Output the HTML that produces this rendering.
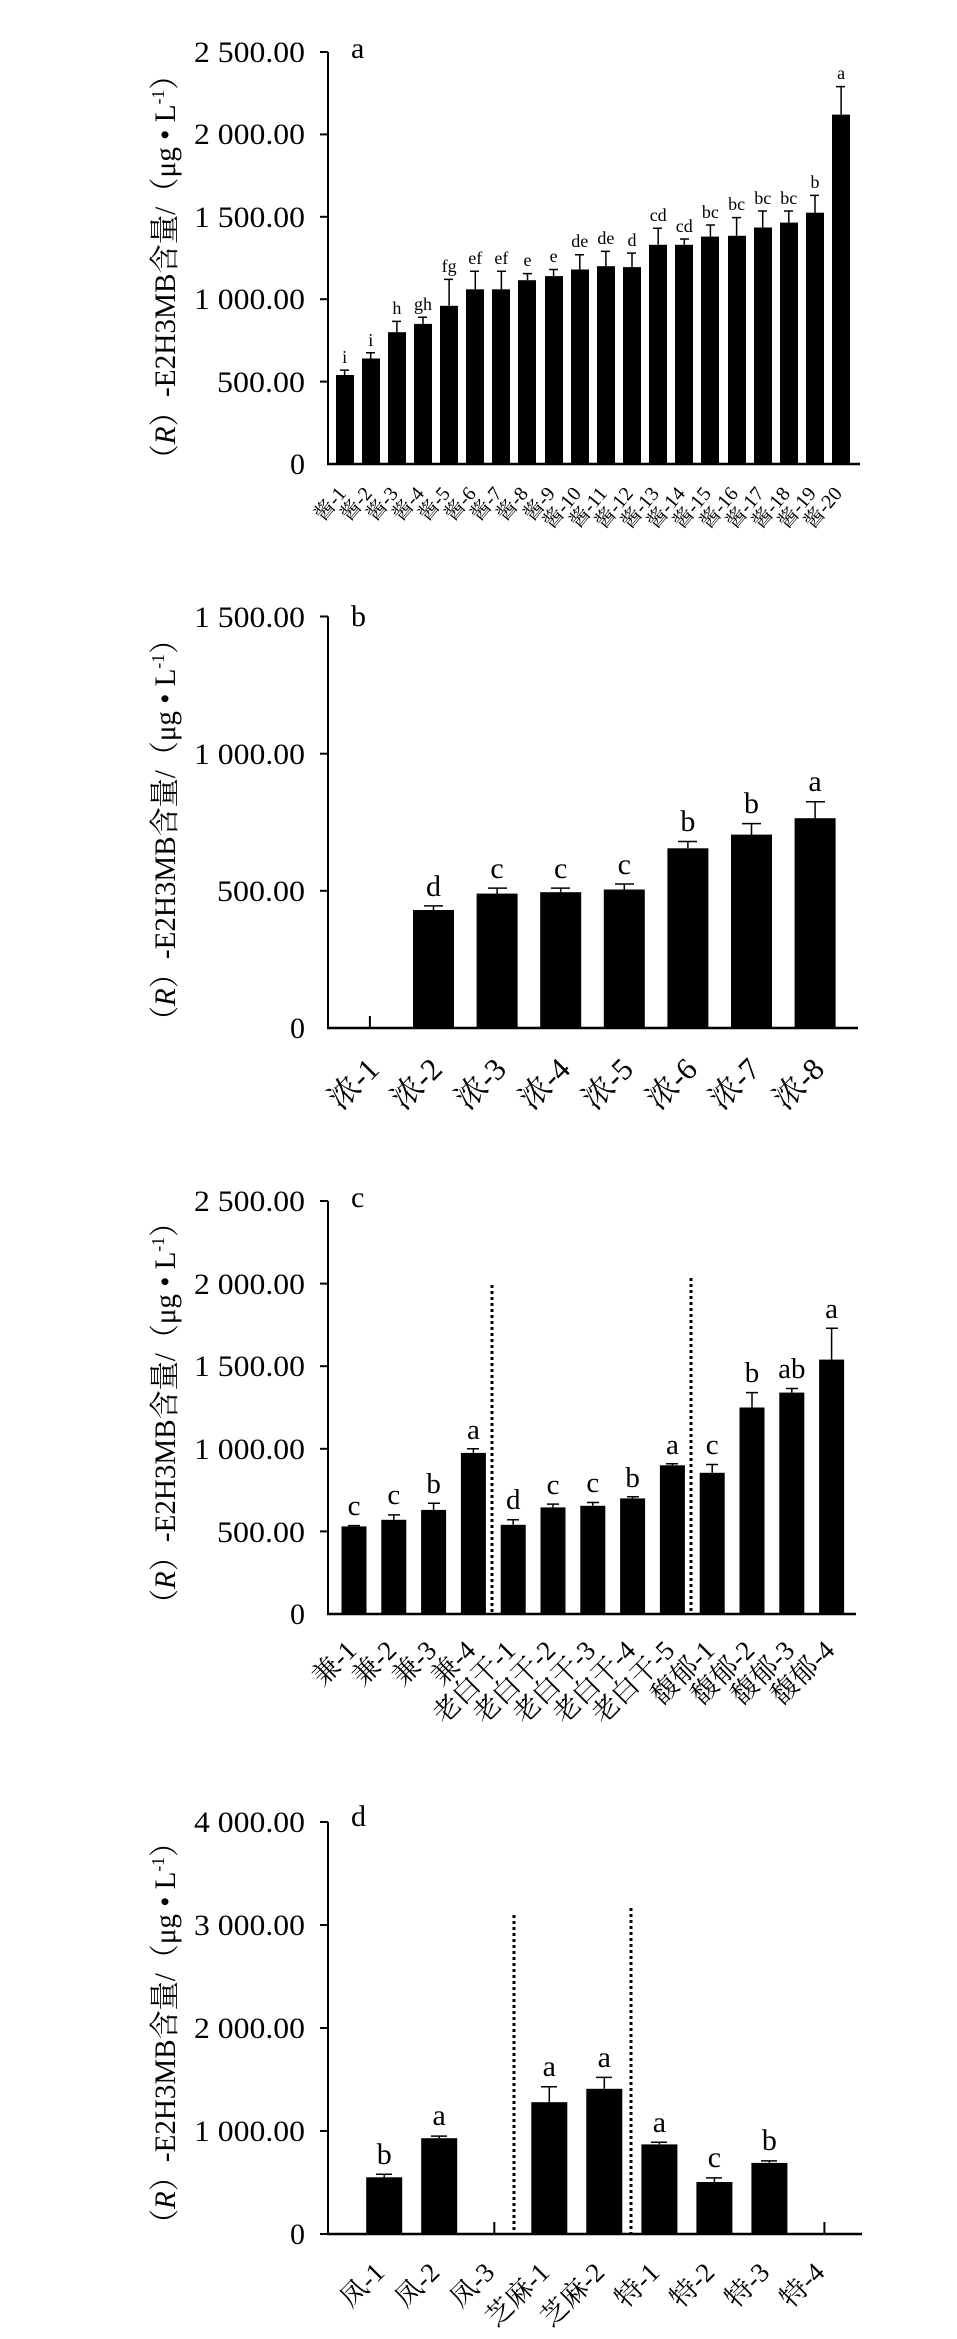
<!DOCTYPE html>
<html><head><meta charset="utf-8"><style>
html,body{margin:0;padding:0;background:#fff}
svg{display:block}
text{font-family:"Liberation Serif","Noto Serif CJK SC","Noto Sans CJK SC",serif;fill:#000}
</style></head><body>
<svg width="957" height="2339" viewBox="0 0 957 2339" xmlns="http://www.w3.org/2000/svg">
<!-- ===== Chart a ===== -->
<g>
<line x1="328" y1="52" x2="328" y2="465" stroke="#000" stroke-width="2"/>
<line x1="327" y1="464" x2="860" y2="464" stroke="#000" stroke-width="2.5"/>
<g stroke="#000" stroke-width="2">
<line x1="320" y1="52" x2="328" y2="52"/><line x1="320" y1="134.4" x2="328" y2="134.4"/><line x1="320" y1="216.8" x2="328" y2="216.8"/><line x1="320" y1="299.2" x2="328" y2="299.2"/><line x1="320" y1="381.6" x2="328" y2="381.6"/>
</g>
<g font-size="30" text-anchor="end" lengthAdjust="spacingAndGlyphs">
<text x="305" y="62" textLength="111" lengthAdjust="spacingAndGlyphs">2 500.00</text><text x="305" y="144" textLength="111" lengthAdjust="spacingAndGlyphs">2 000.00</text><text x="305" y="227" textLength="111" lengthAdjust="spacingAndGlyphs">1 500.00</text><text x="305" y="309" textLength="111" lengthAdjust="spacingAndGlyphs">1 000.00</text><text x="305" y="392" textLength="88" lengthAdjust="spacingAndGlyphs">500.00</text><text x="305" y="474">0</text>
</g>
<text x="351" y="58" font-size="30">a</text>
<g fill="#000">
<rect x="336" y="375" width="18" height="89"/><rect x="362" y="358.5" width="18" height="105.5"/><rect x="388" y="332.2" width="18" height="131.8"/><rect x="414" y="323.9" width="18" height="140.1"/><rect x="440" y="305.8" width="18" height="158.2"/><rect x="466" y="289.3" width="18" height="174.7"/><rect x="492" y="289.3" width="18" height="174.7"/><rect x="518" y="280.2" width="18" height="183.8"/><rect x="545" y="276.1" width="18" height="187.9"/><rect x="571" y="269.5" width="18" height="194.5"/><rect x="597" y="266.2" width="18" height="197.8"/><rect x="623" y="267.1" width="18" height="196.9"/><rect x="649" y="244.8" width="18" height="219.2"/><rect x="675" y="244.8" width="18" height="219.2"/><rect x="701" y="236.6" width="18" height="227.4"/><rect x="728" y="235.8" width="18" height="228.2"/><rect x="754" y="227.5" width="18" height="236.5"/><rect x="780" y="222.6" width="18" height="241.4"/><rect x="806" y="212.7" width="18" height="251.3"/><rect x="832" y="114.6" width="18" height="349.4"/>
</g>
<g stroke="#000" stroke-width="1.5">
<path d="M344.6 375V370.1M340 370.1h9M370.7 358.5V352.8M366 352.8h9M396.9 332.2V321.4M392 321.4h9M423 323.9V317.3M418 317.3h9M449.1 305.8V279.4M444 279.4h9M475.3 289.3V271.2M470 271.2h9M501.4 289.3V271.2M497 271.2h9M527.5 280.2V273.6M523 273.6h9M553.6 276.1V269.5M549 269.5h9M579.8 269.5V254.7M575 254.7h9M605.9 266.2V251.4M601 251.4h9M632 267.1V253.1M627 253.1h9M658.2 244.8V228.3M653 228.3h9M684.3 244.8V239M680 239h9M710.4 236.6V225M706 225h9M736.6 235.8V217.6M732 217.6h9M762.7 227.5V211M758 211h9M788.8 222.6V211M784 211h9M815 212.7V195.4M810 195.4h9M841.1 114.6V86.6M836 86.6h9"/>
</g>
<g font-size="18" text-anchor="middle">
<text x="344.6" y="363">i</text><text x="370.7" y="346">i</text><text x="396.9" y="314">h</text><text x="423" y="310">gh</text><text x="449.1" y="272">fg</text><text x="475.3" y="264">ef</text><text x="501.4" y="264">ef</text><text x="527.5" y="266">e</text><text x="553.6" y="262">e</text><text x="579.8" y="247">de</text><text x="605.9" y="244">de</text><text x="632" y="246">d</text><text x="658.2" y="221">cd</text><text x="684.3" y="232">cd</text><text x="710.4" y="218">bc</text><text x="736.6" y="210">bc</text><text x="762.7" y="204">bc</text><text x="788.8" y="204">bc</text><text x="815" y="188">b</text><text x="841.1" y="79">a</text>
</g>
<g font-size="20" text-anchor="end">
<text transform="translate(347,494) rotate(-50)">酱-1</text><text transform="translate(373,494) rotate(-50)">酱-2</text><text transform="translate(399,494) rotate(-50)">酱-3</text><text transform="translate(425,494) rotate(-50)">酱-4</text><text transform="translate(451,494) rotate(-50)">酱-5</text><text transform="translate(477,494) rotate(-50)">酱-6</text><text transform="translate(503,494) rotate(-50)">酱-7</text><text transform="translate(529,494) rotate(-50)">酱-8</text><text transform="translate(556,494) rotate(-50)">酱-9</text><text transform="translate(582,494) rotate(-50)">酱-10</text><text transform="translate(608,494) rotate(-50)">酱-11</text><text transform="translate(634,494) rotate(-50)">酱-12</text><text transform="translate(660,494) rotate(-50)">酱-13</text><text transform="translate(686,494) rotate(-50)">酱-14</text><text transform="translate(712,494) rotate(-50)">酱-15</text><text transform="translate(739,494) rotate(-50)">酱-16</text><text transform="translate(765,494) rotate(-50)">酱-17</text><text transform="translate(791,494) rotate(-50)">酱-18</text><text transform="translate(817,494) rotate(-50)">酱-19</text><text transform="translate(843,494) rotate(-50)">酱-20</text>
</g>
<text transform="translate(175,267) rotate(-90)" text-anchor="middle" font-size="30" textLength="413" lengthAdjust="spacingAndGlyphs">（<tspan font-style="italic">R</tspan>）-E2H3MB含量/（μg • L<tspan font-size="18" dy="-11">-1</tspan><tspan dy="11">）</tspan></text>
</g>

<!-- ===== Chart b ===== -->
<g>
<line x1="328" y1="616.5" x2="328" y2="1029" stroke="#000" stroke-width="2"/>
<line x1="327" y1="1028" x2="858" y2="1028" stroke="#000" stroke-width="2.5"/>
<g stroke="#000" stroke-width="2">
<line x1="320" y1="616.5" x2="328" y2="616.5"/><line x1="320" y1="753.7" x2="328" y2="753.7"/><line x1="320" y1="890.8" x2="328" y2="890.8"/>
<line x1="369.9" y1="1016" x2="369.9" y2="1028"/>
</g>
<g font-size="30" text-anchor="end">
<text x="305" y="627" textLength="111" lengthAdjust="spacingAndGlyphs">1 500.00</text><text x="305" y="764" textLength="111" lengthAdjust="spacingAndGlyphs">1 000.00</text><text x="305" y="901" textLength="88" lengthAdjust="spacingAndGlyphs">500.00</text><text x="305" y="1038">0</text>
</g>
<text x="351" y="626" font-size="30">b</text>
<g fill="#000">
<rect x="413" y="910" width="41" height="118"/><rect x="476.6" y="893.6" width="41" height="134.4"/><rect x="540.2" y="892.2" width="41" height="135.8"/><rect x="603.8" y="889.5" width="41" height="138.5"/><rect x="667.4" y="848.3" width="41" height="179.7"/><rect x="731" y="834.6" width="41" height="193.4"/><rect x="794.6" y="818.2" width="41" height="209.8"/>
</g>
<g stroke="#000" stroke-width="1.5">
<path d="M433.5 910V905.9M424 905.9h19M497.1 893.6V888.1M488 888.1h19M560.7 892.2V888.1M551 888.1h19M624.3 889.5V884M615 884h19M687.9 848.3V841.5M678 841.5h19M751.5 834.6V823.6M742 823.6h19M815.1 818.2V801.7M806 801.7h19"/>
</g>
<g font-size="30" text-anchor="middle">
<text x="433.5" y="896">d</text><text x="497.1" y="878">c</text><text x="560.7" y="878">c</text><text x="624.3" y="874">c</text><text x="687.9" y="831">b</text><text x="751.5" y="813">b</text><text x="815.1" y="791">a</text>
</g>
<g font-size="31" text-anchor="end">
<text transform="translate(381,1071) rotate(-45)">浓-1</text><text transform="translate(444,1071) rotate(-45)">浓-2</text><text transform="translate(508,1071) rotate(-45)">浓-3</text><text transform="translate(572,1071) rotate(-45)">浓-4</text><text transform="translate(635,1071) rotate(-45)">浓-5</text><text transform="translate(699,1071) rotate(-45)">浓-6</text><text transform="translate(762,1071) rotate(-45)">浓-7</text><text transform="translate(826,1071) rotate(-45)">浓-8</text>
</g>
<text transform="translate(175,830) rotate(-90)" text-anchor="middle" font-size="30" textLength="410" lengthAdjust="spacingAndGlyphs">（<tspan font-style="italic">R</tspan>）-E2H3MB含量/（μg • L<tspan font-size="18" dy="-11">-1</tspan><tspan dy="11">）</tspan></text>
</g>

<!-- ===== Chart c ===== -->
<g>
<line x1="328" y1="1201" x2="328" y2="1615" stroke="#000" stroke-width="2"/>
<line x1="327" y1="1614" x2="856" y2="1614" stroke="#000" stroke-width="2.5"/>
<g stroke="#000" stroke-width="2">
<line x1="320" y1="1201" x2="328" y2="1201"/><line x1="320" y1="1283.6" x2="328" y2="1283.6"/><line x1="320" y1="1366.2" x2="328" y2="1366.2"/><line x1="320" y1="1448.8" x2="328" y2="1448.8"/><line x1="320" y1="1531.4" x2="328" y2="1531.4"/>
</g>
<g font-size="30" text-anchor="end">
<text x="305" y="1211" textLength="111" lengthAdjust="spacingAndGlyphs">2 500.00</text><text x="305" y="1294" textLength="111" lengthAdjust="spacingAndGlyphs">2 000.00</text><text x="305" y="1376" textLength="111" lengthAdjust="spacingAndGlyphs">1 500.00</text><text x="305" y="1459" textLength="111" lengthAdjust="spacingAndGlyphs">1 000.00</text><text x="305" y="1542" textLength="88" lengthAdjust="spacingAndGlyphs">500.00</text><text x="305" y="1624">0</text>
</g>
<text x="351" y="1207" font-size="30">c</text>
<g stroke="#000" stroke-width="3" stroke-dasharray="3,3">
<line x1="492" y1="1285" x2="492" y2="1614"/><line x1="691" y1="1278" x2="691" y2="1614"/>
</g>
<g fill="#000">
<rect x="341.5" y="1526.4" width="25" height="87.6"/><rect x="381.3" y="1519.8" width="25" height="94.2"/><rect x="421.1" y="1509.9" width="25" height="104.1"/><rect x="460.9" y="1452.9" width="25" height="161.1"/><rect x="500.7" y="1524.8" width="25" height="89.2"/><rect x="540.5" y="1507.4" width="25" height="106.6"/><rect x="580.3" y="1505.8" width="25" height="108.2"/><rect x="620.1" y="1498.4" width="25" height="115.6"/><rect x="659.9" y="1465.3" width="25" height="148.7"/><rect x="699.7" y="1472.8" width="25" height="141.2"/><rect x="739.5" y="1407.5" width="25" height="206.5"/><rect x="779.3" y="1392.6" width="25" height="221.4"/><rect x="819.1" y="1359.6" width="25" height="254.4"/>
</g>
<g stroke="#000" stroke-width="1.5">
<path d="M354 1526.4V1525.6M348 1525.6h12M393.8 1519.8V1514.9M388 1514.9h12M433.6 1509.9V1503.3M428 1503.3h12M473.4 1452.9V1448.8M467 1448.8h12M513.2 1524.8V1519.8M507 1519.8h12M553 1507.4V1504.1M547 1504.1h12M592.8 1505.8V1502.5M587 1502.5h12M632.6 1498.4V1496.7M627 1496.7h12M672.4 1465.3V1463.7M666 1463.7h12M712.2 1472.8V1464.5M706 1464.5h12M752 1407.5V1392.6M746 1392.6h12M791.8 1392.6V1388.5M786 1388.5h12M831.6 1359.6V1328.2M826 1328.2h12"/>
</g>
<g font-size="29" text-anchor="middle">
<text x="354" y="1515">c</text><text x="393.8" y="1504">c</text><text x="433.6" y="1493">b</text><text x="473.4" y="1439">a</text><text x="513.2" y="1509">d</text><text x="553" y="1494">c</text><text x="592.8" y="1492">c</text><text x="632.6" y="1487">b</text><text x="672.4" y="1454">a</text><text x="712.2" y="1454">c</text><text x="752" y="1382">b</text><text x="791.8" y="1378">ab</text><text x="831.6" y="1318">a</text>
</g>
<g font-size="27" text-anchor="end">
<text transform="translate(358,1652) rotate(-45)">兼-1</text><text transform="translate(398,1652) rotate(-45)">兼-2</text><text transform="translate(438,1652) rotate(-45)">兼-3</text><text transform="translate(477,1652) rotate(-45)">兼-4</text><text transform="translate(517,1652) rotate(-45)">老白干-1</text><text transform="translate(557,1652) rotate(-45)">老白干-2</text><text transform="translate(597,1652) rotate(-45)">老白干-3</text><text transform="translate(637,1652) rotate(-45)">老白干-4</text><text transform="translate(676,1652) rotate(-45)">老白干-5</text><text transform="translate(716,1652) rotate(-45)">馥郁-1</text><text transform="translate(756,1652) rotate(-45)">馥郁-2</text><text transform="translate(796,1652) rotate(-45)">馥郁-3</text><text transform="translate(836,1652) rotate(-45)">馥郁-4</text>
</g>
<text transform="translate(175,1413) rotate(-90)" text-anchor="middle" font-size="30" textLength="410" lengthAdjust="spacingAndGlyphs">（<tspan font-style="italic">R</tspan>）-E2H3MB含量/（μg • L<tspan font-size="18" dy="-11">-1</tspan><tspan dy="11">）</tspan></text>
</g>

<!-- ===== Chart d ===== -->
<g>
<line x1="328" y1="1822" x2="328" y2="2235" stroke="#000" stroke-width="2"/>
<line x1="327" y1="2234" x2="862" y2="2234" stroke="#000" stroke-width="2.5"/>
<g stroke="#000" stroke-width="2">
<line x1="320" y1="1822" x2="328" y2="1822"/><line x1="320" y1="1925" x2="328" y2="1925"/><line x1="320" y1="2028" x2="328" y2="2028"/><line x1="320" y1="2131" x2="328" y2="2131"/><line x1="320" y1="2234" x2="328" y2="2234"/>
<line x1="494.3" y1="2222" x2="494.3" y2="2234"/><line x1="824.4" y1="2222" x2="824.4" y2="2234"/>
</g>
<g font-size="30" text-anchor="end">
<text x="305" y="1832" textLength="111" lengthAdjust="spacingAndGlyphs">4 000.00</text><text x="305" y="1935" textLength="111" lengthAdjust="spacingAndGlyphs">3 000.00</text><text x="305" y="2038" textLength="111" lengthAdjust="spacingAndGlyphs">2 000.00</text><text x="305" y="2141" textLength="111" lengthAdjust="spacingAndGlyphs">1 000.00</text><text x="305" y="2244">0</text>
</g>
<text x="351" y="1826" font-size="30">d</text>
<g stroke="#000" stroke-width="3" stroke-dasharray="3,3">
<line x1="514" y1="1915" x2="514" y2="2234"/><line x1="631" y1="1908" x2="631" y2="2234"/>
</g>
<g fill="#000">
<rect x="366.2" y="2177.3" width="36" height="56.7"/><rect x="421.2" y="2138.2" width="36" height="95.8"/><rect x="531.3" y="2102.2" width="36" height="131.8"/><rect x="586.3" y="2088.8" width="36" height="145.2"/><rect x="641.4" y="2144.4" width="36" height="89.6"/><rect x="696.4" y="2182" width="36" height="52"/><rect x="751.4" y="2162.9" width="36" height="71.1"/>
</g>
<g stroke="#000" stroke-width="1.5">
<path d="M384.2 2177.3V2174.3M376 2174.3h16M439.2 2138.2V2136.1M431 2136.1h16M549.3 2102.2V2086.7M541 2086.7h16M604.3 2088.8V2077.4M596 2077.4h16M659.4 2144.4V2142.3M651 2142.3h16M714.4 2182V2177.9M706 2177.9h16M769.4 2162.9V2160.9M761 2160.9h16"/>
</g>
<g font-size="30" text-anchor="middle">
<text x="384.2" y="2164">b</text><text x="439.2" y="2125">a</text><text x="549.3" y="2076">a</text><text x="604.3" y="2067">a</text><text x="659.4" y="2132">a</text><text x="714.4" y="2167">c</text><text x="769.4" y="2150">b</text>
</g>
<g font-size="27" text-anchor="end">
<text transform="translate(386,2274) rotate(-45)">凤-1</text><text transform="translate(441,2274) rotate(-45)">凤-2</text><text transform="translate(496,2274) rotate(-45)">凤-3</text><text transform="translate(551,2274) rotate(-45)">芝麻-1</text><text transform="translate(606,2274) rotate(-45)">芝麻-2</text><text transform="translate(661,2274) rotate(-45)">特-1</text><text transform="translate(716,2274) rotate(-45)">特-2</text><text transform="translate(771,2274) rotate(-45)">特-3</text><text transform="translate(826,2274) rotate(-45)">特-4</text>
</g>
<text transform="translate(175,2033) rotate(-90)" text-anchor="middle" font-size="30" textLength="410" lengthAdjust="spacingAndGlyphs">（<tspan font-style="italic">R</tspan>）-E2H3MB含量/（μg • L<tspan font-size="18" dy="-11">-1</tspan><tspan dy="11">）</tspan></text>
</g>
</svg>
</body></html>
